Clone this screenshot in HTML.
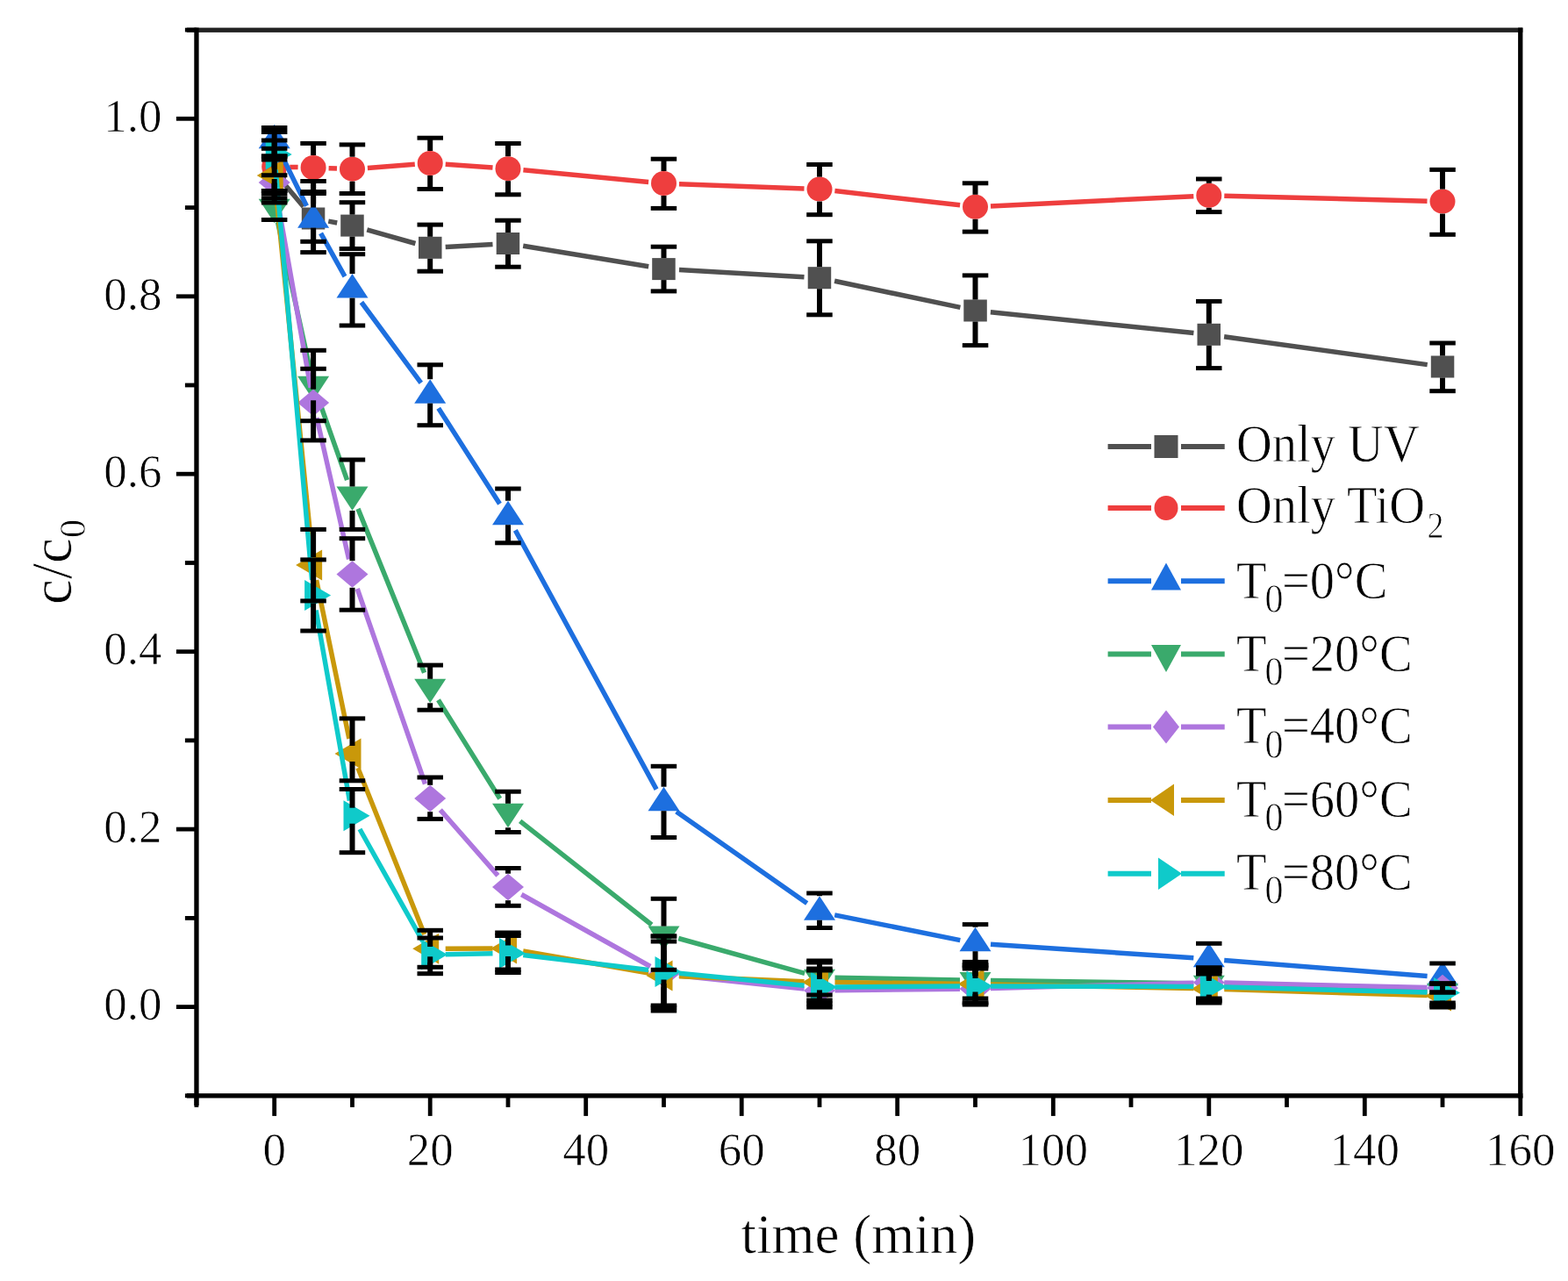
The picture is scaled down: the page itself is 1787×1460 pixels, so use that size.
<!DOCTYPE html><html><head><meta charset="utf-8"><style>html,body{margin:0;padding:0;background:#fff;overflow:hidden;}svg{display:block}</style></head><body>
<svg width="1787" height="1460" viewBox="0 0 1787 1460">
<rect width="1787" height="1460" fill="#fff"/>
<path d="M323.9 209.4L345.8 235.6M374.3 252.1L384.2 254.0M418.3 261.9L473.4 277.5M507.7 281.4L561.5 278.4M596.2 280.3L739.2 303.8M774.0 307.6L916.5 315.7M951.1 320.3L1094.4 350.4M1128.9 355.8L1360.4 379.5M1395.1 383.7L1626.7 415.6" stroke="#505050" stroke-width="5.5" fill="none"/>
<rect x="299.4" y="183.5" width="26.5" height="25.0" fill="#505050"/><rect x="343.8" y="236.5" width="26.5" height="25.0" fill="#505050"/><rect x="388.2" y="244.6" width="26.5" height="25.0" fill="#505050"/><rect x="477.0" y="269.8" width="26.5" height="25.0" fill="#505050"/><rect x="565.7" y="265.0" width="26.5" height="25.0" fill="#505050"/><rect x="743.2" y="294.1" width="26.5" height="25.0" fill="#505050"/><rect x="920.7" y="304.2" width="26.5" height="25.0" fill="#505050"/><rect x="1098.3" y="341.5" width="26.5" height="25.0" fill="#505050"/><rect x="1364.5" y="368.8" width="26.5" height="25.0" fill="#505050"/><rect x="1630.8" y="405.5" width="26.5" height="25.0" fill="#505050"/>
<path d="M330.2 190.4L339.6 190.6M374.6 191.7L384.0 192.0M418.9 191.4L472.8 187.3M507.7 187.2L561.5 191.0M596.4 193.8L739.1 207.4M774.0 209.7L916.5 214.9M951.4 217.6L1094.1 233.8M1129.0 234.9L1360.3 223.7M1395.3 223.2L1626.5 229.2" stroke="#EE3E3E" stroke-width="5.5" fill="none"/>
<ellipse cx="312.7" cy="190.0" rx="14.5" ry="14.0" fill="#EE3E3E"/><ellipse cx="357.1" cy="191.0" rx="14.5" ry="14.0" fill="#EE3E3E"/><ellipse cx="401.5" cy="192.7" rx="14.5" ry="14.0" fill="#EE3E3E"/><ellipse cx="490.2" cy="186.0" rx="14.5" ry="14.0" fill="#EE3E3E"/><ellipse cx="579.0" cy="192.2" rx="14.5" ry="14.0" fill="#EE3E3E"/><ellipse cx="756.5" cy="209.0" rx="14.5" ry="14.0" fill="#EE3E3E"/><ellipse cx="934.0" cy="215.6" rx="14.5" ry="14.0" fill="#EE3E3E"/><ellipse cx="1111.5" cy="235.8" rx="14.5" ry="14.0" fill="#EE3E3E"/><ellipse cx="1377.8" cy="222.8" rx="14.5" ry="14.0" fill="#EE3E3E"/><ellipse cx="1644.0" cy="229.6" rx="14.5" ry="14.0" fill="#EE3E3E"/>
<path d="M320.4 175.7L349.4 234.8M365.6 265.8L393.0 315.1M411.9 344.5L479.8 436.4M499.7 465.2L569.5 574.3M587.3 604.4L748.1 899.6M770.8 925.0L919.7 1029.5M951.2 1042.9L1094.3 1071.6M1129.0 1076.2L1360.3 1091.8M1395.2 1094.4L1626.6 1112.6" stroke="#1D6FDF" stroke-width="5.5" fill="none"/>
<polygon points="312.7,141.7 330.7,169.2 294.7,169.2" fill="#1D6FDF"/><polygon points="357.1,232.2 375.1,259.7 339.1,259.7" fill="#1D6FDF"/><polygon points="401.5,312.1 419.5,339.6 383.5,339.6" fill="#1D6FDF"/><polygon points="490.2,432.2 508.2,459.7 472.2,459.7" fill="#1D6FDF"/><polygon points="579.0,570.7 597.0,598.2 561.0,598.2" fill="#1D6FDF"/><polygon points="756.5,896.7 774.5,924.2 738.5,924.2" fill="#1D6FDF"/><polygon points="934.0,1021.2 952.0,1048.7 916.0,1048.7" fill="#1D6FDF"/><polygon points="1111.5,1056.7 1129.5,1084.2 1093.5,1084.2" fill="#1D6FDF"/><polygon points="1377.8,1074.7 1395.8,1102.2 1359.8,1102.2" fill="#1D6FDF"/><polygon points="1644.0,1095.7 1662.0,1123.2 1626.0,1123.2" fill="#1D6FDF"/>
<path d="M316.5 253.1L353.3 420.9M362.9 454.5L395.6 547.2M408.0 579.9L483.6 766.8M499.5 797.8L569.7 910.2M592.7 935.8L742.7 1054.0M773.3 1069.5L917.1 1109.3M951.5 1114.3L1094.0 1117.0M1129.0 1117.5L1360.3 1120.8M1395.3 1121.6L1626.5 1129.4" stroke="#3AAA6C" stroke-width="5.5" fill="none"/>
<polygon points="312.7,254.3 330.7,226.8 294.7,226.8" fill="#3AAA6C"/><polygon points="357.1,456.3 375.1,428.8 339.1,428.8" fill="#3AAA6C"/><polygon points="401.5,582.0 419.5,554.5 383.5,554.5" fill="#3AAA6C"/><polygon points="490.2,801.3 508.2,773.8 472.2,773.8" fill="#3AAA6C"/><polygon points="579.0,943.3 597.0,915.8 561.0,915.8" fill="#3AAA6C"/><polygon points="756.5,1083.1 774.5,1055.6 738.5,1055.6" fill="#3AAA6C"/><polygon points="934.0,1132.3 952.0,1104.8 916.0,1104.8" fill="#3AAA6C"/><polygon points="1111.5,1135.6 1129.5,1108.1 1093.5,1108.1" fill="#3AAA6C"/><polygon points="1377.8,1139.3 1395.8,1111.8 1359.8,1111.8" fill="#3AAA6C"/><polygon points="1644.0,1148.3 1662.0,1120.8 1626.0,1120.8" fill="#3AAA6C"/>
<path d="M315.7 225.2L354.0 441.8M361.0 476.1L397.6 637.4M407.2 671.0L484.5 893.5M501.8 923.1L567.4 997.9M594.3 1019.5L741.2 1101.5M773.9 1111.9L916.6 1127.1M951.5 1128.8L1094.0 1127.2M1129.0 1126.5L1360.3 1120.2M1395.3 1120.1L1626.5 1125.6" stroke="#AE76DE" stroke-width="5.5" fill="none"/>
<polygon points="312.7,192.8 330.7,208.0 312.7,223.2 294.7,208.0" fill="#AE76DE"/><polygon points="357.1,443.8 375.1,459.0 357.1,474.2 339.1,459.0" fill="#AE76DE"/><polygon points="401.5,639.2 419.5,654.5 401.5,669.8 383.5,654.5" fill="#AE76DE"/><polygon points="490.2,894.8 508.2,910.0 490.2,925.2 472.2,910.0" fill="#AE76DE"/><polygon points="579.0,995.8 597.0,1011.0 579.0,1026.2 561.0,1011.0" fill="#AE76DE"/><polygon points="756.5,1094.8 774.5,1110.0 756.5,1125.2 738.5,1110.0" fill="#AE76DE"/><polygon points="934.0,1113.8 952.0,1129.0 934.0,1144.2 916.0,1129.0" fill="#AE76DE"/><polygon points="1111.5,1111.8 1129.5,1127.0 1111.5,1142.2 1093.5,1127.0" fill="#AE76DE"/><polygon points="1377.8,1104.5 1395.8,1119.7 1377.8,1135.0 1359.8,1119.7" fill="#AE76DE"/><polygon points="1644.0,1110.8 1662.0,1126.0 1644.0,1141.2 1626.0,1126.0" fill="#AE76DE"/>
<path d="M314.4 217.4L355.3 626.6M360.6 661.1L397.9 841.9M407.9 875.3L483.7 1065.0M507.7 1081.2L561.5 1081.1M596.2 1084.0L739.2 1109.0M774.0 1112.7L916.5 1118.7M951.5 1119.6L1094.0 1121.3M1129.0 1121.9L1360.3 1126.6M1395.3 1127.5L1626.5 1134.5" stroke="#C9980A" stroke-width="5.5" fill="none"/>
<polygon points="292.7,200.0 322.7,182.5 322.7,217.5" fill="#C9980A"/><polygon points="337.1,644.0 367.1,626.5 367.1,661.5" fill="#C9980A"/><polygon points="381.5,859.0 411.5,841.5 411.5,876.5" fill="#C9980A"/><polygon points="470.2,1081.3 500.2,1063.8 500.2,1098.8" fill="#C9980A"/><polygon points="559.0,1081.0 589.0,1063.5 589.0,1098.5" fill="#C9980A"/><polygon points="736.5,1112.0 766.5,1094.5 766.5,1129.5" fill="#C9980A"/><polygon points="914.0,1119.4 944.0,1101.9 944.0,1136.9" fill="#C9980A"/><polygon points="1091.5,1121.5 1121.5,1104.0 1121.5,1139.0" fill="#C9980A"/><polygon points="1357.8,1127.0 1387.8,1109.5 1387.8,1144.5" fill="#C9980A"/><polygon points="1624.0,1135.0 1654.0,1117.5 1654.0,1152.5" fill="#C9980A"/>
<path d="M314.2 193.4L355.5 661.0M360.1 695.6L398.4 912.5M410.0 945.0L481.7 1072.7M507.7 1087.7L561.5 1086.8M596.3 1088.6L739.1 1105.4M773.9 1109.2L916.6 1123.3M951.5 1124.9L1094.0 1124.1M1129.0 1124.0L1360.3 1124.6M1395.3 1125.1L1626.5 1131.1" stroke="#0FCACA" stroke-width="5.5" fill="none"/>
<polygon points="332.7,176.0 302.7,158.5 302.7,193.5" fill="#0FCACA"/><polygon points="377.1,678.4 347.1,660.9 347.1,695.9" fill="#0FCACA"/><polygon points="421.5,929.7 391.5,912.2 391.5,947.2" fill="#0FCACA"/><polygon points="510.2,1088.0 480.2,1070.5 480.2,1105.5" fill="#0FCACA"/><polygon points="599.0,1086.5 569.0,1069.0 569.0,1104.0" fill="#0FCACA"/><polygon points="776.5,1107.5 746.5,1090.0 746.5,1125.0" fill="#0FCACA"/><polygon points="954.0,1125.0 924.0,1107.5 924.0,1142.5" fill="#0FCACA"/><polygon points="1131.5,1124.0 1101.5,1106.5 1101.5,1141.5" fill="#0FCACA"/><polygon points="1397.8,1124.6 1367.8,1107.1 1367.8,1142.1" fill="#0FCACA"/><polygon points="1664.0,1131.6 1634.0,1114.1 1634.0,1149.1" fill="#0FCACA"/>
<g fill="#000"><rect x="309.7" y="169.3" width="6.0" height="14.2"/><rect x="309.7" y="208.5" width="6.0" height="17.5"/><rect x="297.9" y="166.8" width="29.5" height="5.0"/><rect x="297.9" y="223.5" width="29.5" height="5.0"/><rect x="354.1" y="206.5" width="6.0" height="30.0"/><rect x="354.1" y="261.5" width="6.0" height="26.1"/><rect x="342.3" y="204.0" width="29.5" height="5.0"/><rect x="342.3" y="285.1" width="29.5" height="5.0"/><rect x="398.5" y="230.7" width="6.0" height="13.9"/><rect x="398.5" y="269.6" width="6.0" height="13.9"/><rect x="386.7" y="228.2" width="29.5" height="5.0"/><rect x="386.7" y="281.0" width="29.5" height="5.0"/><rect x="487.2" y="256.1" width="6.0" height="13.7"/><rect x="487.2" y="294.8" width="6.0" height="14.4"/><rect x="475.5" y="253.6" width="29.5" height="5.0"/><rect x="475.5" y="306.7" width="29.5" height="5.0"/><rect x="576.0" y="251.2" width="6.0" height="13.8"/><rect x="576.0" y="290.0" width="6.0" height="14.2"/><rect x="564.2" y="248.7" width="29.5" height="5.0"/><rect x="564.2" y="301.7" width="29.5" height="5.0"/><rect x="753.5" y="281.2" width="6.0" height="12.9"/><rect x="753.5" y="319.1" width="6.0" height="12.8"/><rect x="741.7" y="278.7" width="29.5" height="5.0"/><rect x="741.7" y="329.4" width="29.5" height="5.0"/><rect x="931.0" y="274.8" width="6.0" height="29.4"/><rect x="931.0" y="329.2" width="6.0" height="29.6"/><rect x="919.2" y="272.3" width="29.5" height="5.0"/><rect x="919.2" y="356.3" width="29.5" height="5.0"/><rect x="1108.5" y="313.9" width="6.0" height="27.6"/><rect x="1108.5" y="366.5" width="6.0" height="27.1"/><rect x="1096.8" y="311.4" width="29.5" height="5.0"/><rect x="1096.8" y="391.1" width="29.5" height="5.0"/><rect x="1374.8" y="343.4" width="6.0" height="25.4"/><rect x="1374.8" y="393.8" width="6.0" height="25.8"/><rect x="1363.0" y="340.9" width="29.5" height="5.0"/><rect x="1363.0" y="417.1" width="29.5" height="5.0"/><rect x="1641.0" y="391.0" width="6.0" height="14.5"/><rect x="1641.0" y="430.5" width="6.0" height="15.2"/><rect x="1629.3" y="388.5" width="29.5" height="5.0"/><rect x="1629.3" y="443.2" width="29.5" height="5.0"/><rect x="309.7" y="160.0" width="6.0" height="16.0"/><rect x="309.7" y="204.0" width="6.0" height="13.5"/><rect x="297.9" y="157.5" width="29.5" height="5.0"/><rect x="297.9" y="215.0" width="29.5" height="5.0"/><rect x="354.1" y="163.4" width="6.0" height="13.6"/><rect x="354.1" y="205.0" width="6.0" height="13.6"/><rect x="342.3" y="160.9" width="29.5" height="5.0"/><rect x="342.3" y="216.1" width="29.5" height="5.0"/><rect x="398.5" y="164.9" width="6.0" height="13.8"/><rect x="398.5" y="206.7" width="6.0" height="13.8"/><rect x="386.7" y="162.4" width="29.5" height="5.0"/><rect x="386.7" y="218.0" width="29.5" height="5.0"/><rect x="487.2" y="157.2" width="6.0" height="14.8"/><rect x="487.2" y="200.0" width="6.0" height="15.5"/><rect x="475.5" y="154.7" width="29.5" height="5.0"/><rect x="475.5" y="213.0" width="29.5" height="5.0"/><rect x="576.0" y="163.5" width="6.0" height="14.7"/><rect x="576.0" y="206.2" width="6.0" height="15.6"/><rect x="564.2" y="161.0" width="29.5" height="5.0"/><rect x="564.2" y="219.3" width="29.5" height="5.0"/><rect x="753.5" y="181.2" width="6.0" height="13.8"/><rect x="753.5" y="223.0" width="6.0" height="14.4"/><rect x="741.7" y="178.7" width="29.5" height="5.0"/><rect x="741.7" y="234.9" width="29.5" height="5.0"/><rect x="931.0" y="187.5" width="6.0" height="14.1"/><rect x="931.0" y="229.6" width="6.0" height="15.1"/><rect x="919.2" y="185.0" width="29.5" height="5.0"/><rect x="919.2" y="242.2" width="29.5" height="5.0"/><rect x="1108.5" y="208.8" width="6.0" height="13.0"/><rect x="1108.5" y="249.8" width="6.0" height="14.3"/><rect x="1096.8" y="206.3" width="29.5" height="5.0"/><rect x="1096.8" y="261.6" width="29.5" height="5.0"/><rect x="1374.8" y="204.0" width="6.0" height="4.8"/><rect x="1374.8" y="236.8" width="6.0" height="4.8"/><rect x="1363.0" y="201.5" width="29.5" height="5.0"/><rect x="1363.0" y="239.1" width="29.5" height="5.0"/><rect x="1641.0" y="193.4" width="6.0" height="22.2"/><rect x="1641.0" y="243.6" width="6.0" height="23.7"/><rect x="1629.3" y="190.9" width="29.5" height="5.0"/><rect x="1629.3" y="264.8" width="29.5" height="5.0"/><rect x="309.7" y="169.2" width="6.0" height="8.8"/><rect x="297.9" y="143.0" width="29.5" height="5.0"/><rect x="297.9" y="175.5" width="29.5" height="5.0"/><rect x="354.1" y="220.5" width="6.0" height="11.7"/><rect x="354.1" y="259.7" width="6.0" height="15.6"/><rect x="342.3" y="218.0" width="29.5" height="5.0"/><rect x="342.3" y="272.8" width="29.5" height="5.0"/><rect x="398.5" y="289.7" width="6.0" height="22.4"/><rect x="398.5" y="339.6" width="6.0" height="31.4"/><rect x="386.7" y="287.2" width="29.5" height="5.0"/><rect x="386.7" y="368.5" width="29.5" height="5.0"/><rect x="487.2" y="415.8" width="6.0" height="16.4"/><rect x="487.2" y="459.7" width="6.0" height="25.0"/><rect x="475.5" y="413.3" width="29.5" height="5.0"/><rect x="475.5" y="482.2" width="29.5" height="5.0"/><rect x="576.0" y="557.0" width="6.0" height="13.7"/><rect x="576.0" y="598.2" width="6.0" height="20.6"/><rect x="564.2" y="554.5" width="29.5" height="5.0"/><rect x="564.2" y="616.3" width="29.5" height="5.0"/><rect x="753.5" y="873.3" width="6.0" height="23.4"/><rect x="753.5" y="924.2" width="6.0" height="30.3"/><rect x="741.7" y="870.8" width="29.5" height="5.0"/><rect x="741.7" y="952.0" width="29.5" height="5.0"/><rect x="931.0" y="1018.0" width="6.0" height="3.2"/><rect x="931.0" y="1048.7" width="6.0" height="8.8"/><rect x="919.2" y="1015.5" width="29.5" height="5.0"/><rect x="919.2" y="1055.0" width="29.5" height="5.0"/><rect x="1108.5" y="1053.6" width="6.0" height="3.1"/><rect x="1108.5" y="1084.2" width="6.0" height="12.2"/><rect x="1096.8" y="1051.1" width="29.5" height="5.0"/><rect x="1096.8" y="1093.9" width="29.5" height="5.0"/><rect x="1374.8" y="1102.2" width="6.0" height="7.8"/><rect x="1363.0" y="1072.8" width="29.5" height="5.0"/><rect x="1363.0" y="1107.5" width="29.5" height="5.0"/><rect x="1641.0" y="1123.2" width="6.0" height="7.8"/><rect x="1629.3" y="1095.5" width="29.5" height="5.0"/><rect x="1629.3" y="1128.5" width="29.5" height="5.0"/><rect x="309.7" y="217.5" width="6.0" height="9.3"/><rect x="297.9" y="215.0" width="29.5" height="5.0"/><rect x="297.9" y="248.0" width="29.5" height="5.0"/><rect x="354.1" y="399.3" width="6.0" height="29.5"/><rect x="354.1" y="456.3" width="6.0" height="23.4"/><rect x="342.3" y="396.8" width="29.5" height="5.0"/><rect x="342.3" y="477.2" width="29.5" height="5.0"/><rect x="398.5" y="524.0" width="6.0" height="30.5"/><rect x="398.5" y="582.0" width="6.0" height="21.4"/><rect x="386.7" y="521.5" width="29.5" height="5.0"/><rect x="386.7" y="600.9" width="29.5" height="5.0"/><rect x="487.2" y="758.1" width="6.0" height="15.7"/><rect x="487.2" y="801.3" width="6.0" height="7.9"/><rect x="475.5" y="755.6" width="29.5" height="5.0"/><rect x="475.5" y="806.7" width="29.5" height="5.0"/><rect x="576.0" y="902.2" width="6.0" height="13.6"/><rect x="576.0" y="943.3" width="6.0" height="5.2"/><rect x="564.2" y="899.7" width="29.5" height="5.0"/><rect x="564.2" y="946.0" width="29.5" height="5.0"/><rect x="753.5" y="1024.3" width="6.0" height="31.3"/><rect x="753.5" y="1083.1" width="6.0" height="22.2"/><rect x="741.7" y="1021.8" width="29.5" height="5.0"/><rect x="741.7" y="1102.8" width="29.5" height="5.0"/><rect x="931.0" y="1095.0" width="6.0" height="9.8"/><rect x="931.0" y="1132.3" width="6.0" height="1.7"/><rect x="919.2" y="1092.5" width="29.5" height="5.0"/><rect x="919.2" y="1131.5" width="29.5" height="5.0"/><rect x="1108.5" y="1100.0" width="6.0" height="8.1"/><rect x="1108.5" y="1135.6" width="6.0" height="2.4"/><rect x="1096.8" y="1097.5" width="29.5" height="5.0"/><rect x="1096.8" y="1135.5" width="29.5" height="5.0"/><rect x="1374.8" y="1103.0" width="6.0" height="8.8"/><rect x="1374.8" y="1139.3" width="6.0" height="0.7"/><rect x="1363.0" y="1100.5" width="29.5" height="5.0"/><rect x="1363.0" y="1137.5" width="29.5" height="5.0"/><rect x="1629.3" y="1118.5" width="29.5" height="5.0"/><rect x="1629.3" y="1143.5" width="29.5" height="5.0"/><rect x="309.7" y="182.0" width="6.0" height="10.8"/><rect x="309.7" y="223.2" width="6.0" height="7.8"/><rect x="297.9" y="179.5" width="29.5" height="5.0"/><rect x="297.9" y="228.5" width="29.5" height="5.0"/><rect x="354.1" y="420.3" width="6.0" height="23.4"/><rect x="354.1" y="474.2" width="6.0" height="27.6"/><rect x="342.3" y="417.8" width="29.5" height="5.0"/><rect x="342.3" y="499.4" width="29.5" height="5.0"/><rect x="398.5" y="613.7" width="6.0" height="25.5"/><rect x="398.5" y="669.8" width="6.0" height="25.5"/><rect x="386.7" y="611.2" width="29.5" height="5.0"/><rect x="386.7" y="692.7" width="29.5" height="5.0"/><rect x="487.2" y="886.0" width="6.0" height="8.8"/><rect x="487.2" y="925.2" width="6.0" height="8.1"/><rect x="475.5" y="883.5" width="29.5" height="5.0"/><rect x="475.5" y="930.9" width="29.5" height="5.0"/><rect x="576.0" y="989.5" width="6.0" height="6.2"/><rect x="576.0" y="1026.2" width="6.0" height="6.0"/><rect x="564.2" y="987.0" width="29.5" height="5.0"/><rect x="564.2" y="1029.8" width="29.5" height="5.0"/><rect x="753.5" y="1067.0" width="6.0" height="27.8"/><rect x="753.5" y="1125.2" width="6.0" height="20.8"/><rect x="741.7" y="1064.5" width="29.5" height="5.0"/><rect x="741.7" y="1143.5" width="29.5" height="5.0"/><rect x="931.0" y="1106.0" width="6.0" height="7.8"/><rect x="931.0" y="1144.2" width="6.0" height="3.8"/><rect x="919.2" y="1103.5" width="29.5" height="5.0"/><rect x="919.2" y="1145.5" width="29.5" height="5.0"/><rect x="1108.5" y="1104.0" width="6.0" height="7.8"/><rect x="1108.5" y="1142.2" width="6.0" height="2.8"/><rect x="1096.8" y="1101.5" width="29.5" height="5.0"/><rect x="1096.8" y="1142.5" width="29.5" height="5.0"/><rect x="1374.8" y="1103.0" width="6.0" height="1.5"/><rect x="1374.8" y="1135.0" width="6.0" height="3.0"/><rect x="1363.0" y="1100.5" width="29.5" height="5.0"/><rect x="1363.0" y="1135.5" width="29.5" height="5.0"/><rect x="1641.0" y="1141.2" width="6.0" height="1.8"/><rect x="1629.3" y="1118.5" width="29.5" height="5.0"/><rect x="1629.3" y="1140.5" width="29.5" height="5.0"/><rect x="309.7" y="178.0" width="6.0" height="13.0"/><rect x="309.7" y="209.0" width="6.0" height="12.0"/><rect x="297.9" y="175.5" width="29.5" height="5.0"/><rect x="297.9" y="218.5" width="29.5" height="5.0"/><rect x="354.1" y="603.4" width="6.0" height="31.6"/><rect x="354.1" y="653.0" width="6.0" height="31.9"/><rect x="342.3" y="600.9" width="29.5" height="5.0"/><rect x="342.3" y="682.4" width="29.5" height="5.0"/><rect x="398.5" y="818.9" width="6.0" height="31.1"/><rect x="398.5" y="868.0" width="6.0" height="21.8"/><rect x="386.7" y="816.4" width="29.5" height="5.0"/><rect x="386.7" y="887.3" width="29.5" height="5.0"/><rect x="487.2" y="1060.3" width="6.0" height="12.0"/><rect x="487.2" y="1090.3" width="6.0" height="12.0"/><rect x="475.5" y="1057.8" width="29.5" height="5.0"/><rect x="475.5" y="1099.8" width="29.5" height="5.0"/><rect x="576.0" y="1063.0" width="6.0" height="9.0"/><rect x="576.0" y="1090.0" width="6.0" height="15.0"/><rect x="564.2" y="1060.5" width="29.5" height="5.0"/><rect x="564.2" y="1102.5" width="29.5" height="5.0"/><rect x="753.5" y="1073.0" width="6.0" height="30.0"/><rect x="753.5" y="1121.0" width="6.0" height="31.0"/><rect x="741.7" y="1070.5" width="29.5" height="5.0"/><rect x="741.7" y="1149.5" width="29.5" height="5.0"/><rect x="931.0" y="1097.0" width="6.0" height="13.4"/><rect x="931.0" y="1128.4" width="6.0" height="11.6"/><rect x="919.2" y="1094.5" width="29.5" height="5.0"/><rect x="919.2" y="1137.5" width="29.5" height="5.0"/><rect x="1108.5" y="1102.0" width="6.0" height="10.5"/><rect x="1108.5" y="1130.5" width="6.0" height="12.5"/><rect x="1096.8" y="1099.5" width="29.5" height="5.0"/><rect x="1096.8" y="1140.5" width="29.5" height="5.0"/><rect x="1374.8" y="1107.0" width="6.0" height="11.0"/><rect x="1374.8" y="1136.0" width="6.0" height="7.0"/><rect x="1363.0" y="1104.5" width="29.5" height="5.0"/><rect x="1363.0" y="1140.5" width="29.5" height="5.0"/><rect x="1641.0" y="1144.0" width="6.0" height="4.0"/><rect x="1629.3" y="1128.5" width="29.5" height="5.0"/><rect x="1629.3" y="1145.5" width="29.5" height="5.0"/><rect x="309.7" y="150.5" width="6.0" height="16.5"/><rect x="309.7" y="185.0" width="6.0" height="14.7"/><rect x="297.9" y="148.0" width="29.5" height="5.0"/><rect x="297.9" y="197.2" width="29.5" height="5.0"/><rect x="354.1" y="637.9" width="6.0" height="31.5"/><rect x="354.1" y="687.4" width="6.0" height="31.6"/><rect x="342.3" y="635.4" width="29.5" height="5.0"/><rect x="342.3" y="716.5" width="29.5" height="5.0"/><rect x="398.5" y="899.5" width="6.0" height="21.2"/><rect x="398.5" y="938.7" width="6.0" height="33.0"/><rect x="386.7" y="897.0" width="29.5" height="5.0"/><rect x="386.7" y="969.2" width="29.5" height="5.0"/><rect x="487.2" y="1069.0" width="6.0" height="10.0"/><rect x="487.2" y="1097.0" width="6.0" height="12.7"/><rect x="475.5" y="1066.5" width="29.5" height="5.0"/><rect x="475.5" y="1107.2" width="29.5" height="5.0"/><rect x="576.0" y="1066.5" width="6.0" height="11.0"/><rect x="576.0" y="1095.5" width="6.0" height="13.0"/><rect x="564.2" y="1064.0" width="29.5" height="5.0"/><rect x="564.2" y="1106.0" width="29.5" height="5.0"/><rect x="753.5" y="1067.0" width="6.0" height="31.5"/><rect x="753.5" y="1116.5" width="6.0" height="31.5"/><rect x="741.7" y="1064.5" width="29.5" height="5.0"/><rect x="741.7" y="1145.5" width="29.5" height="5.0"/><rect x="931.0" y="1104.0" width="6.0" height="12.0"/><rect x="931.0" y="1134.0" width="6.0" height="10.0"/><rect x="919.2" y="1101.5" width="29.5" height="5.0"/><rect x="919.2" y="1141.5" width="29.5" height="5.0"/><rect x="1108.5" y="1100.0" width="6.0" height="15.0"/><rect x="1108.5" y="1133.0" width="6.0" height="10.0"/><rect x="1096.8" y="1097.5" width="29.5" height="5.0"/><rect x="1096.8" y="1140.5" width="29.5" height="5.0"/><rect x="1374.8" y="1106.0" width="6.0" height="9.6"/><rect x="1374.8" y="1133.6" width="6.0" height="7.4"/><rect x="1363.0" y="1103.5" width="29.5" height="5.0"/><rect x="1363.0" y="1138.5" width="29.5" height="5.0"/><rect x="1641.0" y="1121.0" width="6.0" height="1.6"/><rect x="1641.0" y="1140.6" width="6.0" height="5.4"/><rect x="1629.3" y="1118.5" width="29.5" height="5.0"/><rect x="1629.3" y="1143.5" width="29.5" height="5.0"/></g>
<g fill="#000"><rect x="212.9" y="31.6" width="1522.5" height="5.3" fill="#222"/><rect x="212.9" y="1246.2" width="1522.5" height="5.3"/><rect x="221.3" y="31.6" width="5.3" height="1228.4"/><rect x="1730.1" y="31.6" width="5.3" height="1220.0"/><rect x="221.5" y="1248.9" width="4.8" height="13.0"/><rect x="310.3" y="1248.9" width="4.8" height="23.0"/><rect x="399.1" y="1248.9" width="4.8" height="13.0"/><rect x="487.8" y="1248.9" width="4.8" height="23.0"/><rect x="576.6" y="1248.9" width="4.8" height="13.0"/><rect x="665.3" y="1248.9" width="4.8" height="23.0"/><rect x="754.1" y="1248.9" width="4.8" height="13.0"/><rect x="842.8" y="1248.9" width="4.8" height="23.0"/><rect x="931.6" y="1248.9" width="4.8" height="13.0"/><rect x="1020.3" y="1248.9" width="4.8" height="23.0"/><rect x="1109.1" y="1248.9" width="4.8" height="13.0"/><rect x="1197.9" y="1248.9" width="4.8" height="23.0"/><rect x="1286.6" y="1248.9" width="4.8" height="13.0"/><rect x="1375.4" y="1248.9" width="4.8" height="23.0"/><rect x="1464.1" y="1248.9" width="4.8" height="13.0"/><rect x="1552.9" y="1248.9" width="4.8" height="23.0"/><rect x="1641.6" y="1248.9" width="4.8" height="13.0"/><rect x="1730.4" y="1248.9" width="4.8" height="23.0"/><rect x="210.9" y="1246.4" width="13.0" height="4.8"/><rect x="200.9" y="1145.2" width="23.0" height="4.8"/><rect x="210.9" y="1044.0" width="13.0" height="4.8"/><rect x="200.9" y="942.7" width="23.0" height="4.8"/><rect x="210.9" y="841.5" width="13.0" height="4.8"/><rect x="200.9" y="740.3" width="23.0" height="4.8"/><rect x="210.9" y="639.1" width="13.0" height="4.8"/><rect x="200.9" y="537.8" width="23.0" height="4.8"/><rect x="210.9" y="436.6" width="13.0" height="4.8"/><rect x="200.9" y="335.4" width="23.0" height="4.8"/><rect x="210.9" y="234.2" width="13.0" height="4.8"/><rect x="200.9" y="132.9" width="23.0" height="4.8"/><rect x="210.9" y="31.7" width="13.0" height="4.8"/></g>
<g font-family="'Liberation Serif', serif" font-size="53" fill="#000" stroke="#fff" stroke-width="0.7"><text x="312.7" y="1327.5" text-anchor="middle">0</text><text x="490.2" y="1327.5" text-anchor="middle">20</text><text x="667.7" y="1327.5" text-anchor="middle">40</text><text x="845.2" y="1327.5" text-anchor="middle">60</text><text x="1022.7" y="1327.5" text-anchor="middle">80</text><text x="1200.3" y="1327.5" text-anchor="middle">100</text><text x="1377.8" y="1327.5" text-anchor="middle">120</text><text x="1555.3" y="1327.5" text-anchor="middle">140</text><text x="1732.8" y="1327.5" text-anchor="middle">160</text><text x="184.5" y="1162.3" text-anchor="end">0.0</text><text x="184.5" y="959.8" text-anchor="end">0.2</text><text x="184.5" y="757.4" text-anchor="end">0.4</text><text x="184.5" y="554.9" text-anchor="end">0.6</text><text x="184.5" y="352.5" text-anchor="end">0.8</text><text x="184.5" y="150.0" text-anchor="end">1.0</text></g>
<text x="978.4" y="1428" text-anchor="middle" font-family="'Liberation Serif', serif" font-size="63" fill="#000" stroke="#fff" stroke-width="0.7">time (min)</text>
<text transform="translate(81 640.3) rotate(-90)" text-anchor="middle" font-family="'Liberation Serif', serif" font-size="65" fill="#000" stroke="#fff" stroke-width="0.7">c/c<tspan font-size="43" dy="16">0</tspan></text>
<path d="M1262.6 509.0L1312.0 509.0M1346.0 509.0L1395.7 509.0" stroke="#505050" stroke-width="6.0"/><rect x="1315.5" y="496.0" width="27.0" height="26.0" fill="#505050"/><text transform="translate(1409 526.1) scale(1 1.085)" x="0" y="0" font-family="'Liberation Serif', serif" font-size="56.5" fill="#000" stroke="#fff" stroke-width="0.7">Only UV</text><path d="M1262.6 579.0L1312.0 579.0M1346.0 579.0L1395.7 579.0" stroke="#EE3E3E" stroke-width="6.0"/><ellipse cx="1329.0" cy="579.0" rx="13.5" ry="14.0" fill="#EE3E3E"/><text transform="translate(1409 596.0) scale(1 1.085)" x="0" y="0" font-family="'Liberation Serif', serif" font-size="56.5" fill="#000" stroke="#fff" stroke-width="0.7">Only TiO<tspan font-size="38" dx="2.5" dy="16">2</tspan></text><path d="M1262.6 662.3L1312.0 662.3M1346.0 662.3L1395.7 662.3" stroke="#1D6FDF" stroke-width="6.0"/><polygon points="1329.0,641.6 1346.0,672.6 1312.0,672.6" fill="#1D6FDF"/><text transform="translate(1409 681.5) scale(1 1.085)" x="0" y="0" font-family="'Liberation Serif', serif" font-size="56.5" fill="#000" stroke="#fff" stroke-width="0.7">T<tspan font-size="42" dx="-2" dy="15">0</tspan><tspan dx="-1.5" dy="-15">=0°C</tspan></text><path d="M1262.6 745.4L1312.0 745.4M1346.0 745.4L1395.7 745.4" stroke="#3AAA6C" stroke-width="6.0"/><polygon points="1329.0,766.1 1346.0,735.1 1312.0,735.1" fill="#3AAA6C"/><text transform="translate(1409 764.5) scale(1 1.085)" x="0" y="0" font-family="'Liberation Serif', serif" font-size="56.5" fill="#000" stroke="#fff" stroke-width="0.7">T<tspan font-size="42" dx="-2" dy="15">0</tspan><tspan dx="-1.5" dy="-15">=20°C</tspan></text><path d="M1262.6 828.5L1312.0 828.5M1346.0 828.5L1395.7 828.5" stroke="#AE76DE" stroke-width="6.0"/><polygon points="1329.0,809.5 1344.0,828.5 1329.0,847.5 1314.0,828.5" fill="#AE76DE"/><text transform="translate(1409 847.3) scale(1 1.085)" x="0" y="0" font-family="'Liberation Serif', serif" font-size="56.5" fill="#000" stroke="#fff" stroke-width="0.7">T<tspan font-size="42" dx="-2" dy="15">0</tspan><tspan dx="-1.5" dy="-15">=40°C</tspan></text><path d="M1262.6 911.9L1312.0 911.9M1346.0 911.9L1395.7 911.9" stroke="#C9980A" stroke-width="6.0"/><polygon points="1311.0,911.9 1338.0,893.6 1338.0,930.1" fill="#C9980A"/><text transform="translate(1409 930.5) scale(1 1.085)" x="0" y="0" font-family="'Liberation Serif', serif" font-size="56.5" fill="#000" stroke="#fff" stroke-width="0.7">T<tspan font-size="42" dx="-2" dy="15">0</tspan><tspan dx="-1.5" dy="-15">=60°C</tspan></text><path d="M1262.6 995.7L1312.0 995.7M1346.0 995.7L1395.7 995.7" stroke="#0FCACA" stroke-width="6.0"/><polygon points="1347.0,995.7 1320.0,977.5 1320.0,1014.0" fill="#0FCACA"/><text transform="translate(1409 1013.5) scale(1 1.085)" x="0" y="0" font-family="'Liberation Serif', serif" font-size="56.5" fill="#000" stroke="#fff" stroke-width="0.7">T<tspan font-size="42" dx="-2" dy="15">0</tspan><tspan dx="-1.5" dy="-15">=80°C</tspan></text>
</svg></body></html>
